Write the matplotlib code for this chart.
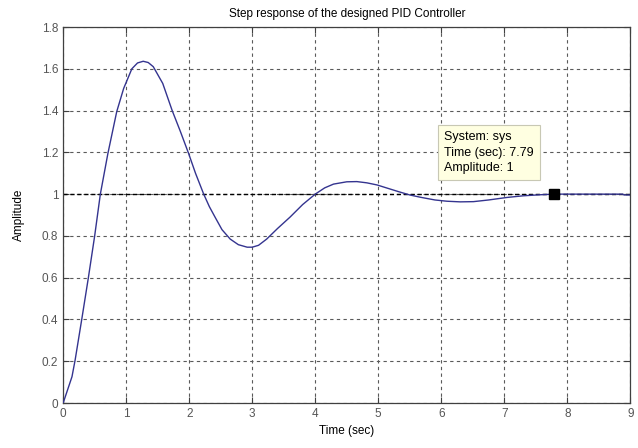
"""Step response of the designed PID controller (MATLAB-style figure)."""

import matplotlib

matplotlib.use("Agg")
import matplotlib.pyplot as plt

# values
time_s = [0.0, 0.14, 0.19, 0.30, 0.40, 0.50, 0.59, 0.71, 0.85, 0.96, 1.09,
          1.18, 1.27, 1.35, 1.43, 1.58, 1.73, 1.86, 1.99, 2.10, 2.23, 2.32,
          2.41, 2.52, 2.65, 2.78, 2.92, 3.0, 3.10, 3.23, 3.40, 3.60, 3.80,
          4.0, 4.15, 4.29, 4.50, 4.66, 4.82, 4.98, 5.15, 5.32, 5.50, 5.67,
          5.90, 6.09, 6.30, 6.51, 6.75, 7.04, 7.30, 7.57, 7.79, 8.5, 8.88,
          8.9, 9.0]
amplitude = [0.0, 0.126, 0.206, 0.41, 0.60, 0.80, 1.0, 1.195, 1.395, 1.506,
             1.60, 1.628, 1.636, 1.630, 1.61, 1.53, 1.40, 1.30, 1.195, 1.10,
             1.0, 0.94, 0.89, 0.83, 0.785, 0.758, 0.746, 0.746, 0.755, 0.785,
             0.835, 0.89, 0.95, 1.0, 1.03, 1.048, 1.059, 1.06, 1.054, 1.044,
             1.028, 1.012, 0.996, 0.985, 0.972, 0.966, 0.963, 0.964, 0.972,
             0.984, 0.992, 0.997, 1.0, 1.0, 1.0, 0.996, 0.996]
x_ticks = [0, 1, 2, 3, 4, 5, 6, 7, 8, 9]
y_ticks = [0, 0.2, 0.4, 0.6, 0.8, 1, 1.2, 1.4, 1.6, 1.8]
y_tick_labels = ["0", "0.2", "0.4", "0.6", "0.8", "1", "1.2", "1.4", "1.6", "1.8"]
datatip_time = 7.79
datatip_amp = 1.0
datatip_text = "System: sys\nTime (sec): 7.79\nAmplitude: 1"


def main() -> None:
    plt.rcParams["font.family"] = ["Liberation Sans", "DejaVu Sans"]
    fig = plt.figure(figsize=(6.38, 4.48), dpi=100)
    ax = fig.add_axes([0.099, 0.1004, 0.889, 0.8393])

    grey = "#404040"
    ax.plot(time_s, amplitude, color="#34348f", lw=1.0, zorder=3)
    ax.axhline(1.0, color="black", lw=1.0, ls=(0, (3, 2)), zorder=2)
    ax.plot([datatip_time], [datatip_amp], "s", color="black", ms=7, zorder=5)

    ax.set_xlim(0, 9)
    ax.set_ylim(0, 1.8)
    ax.set_xticks(x_ticks)
    ax.set_yticks(y_ticks)
    ax.set_yticklabels(y_tick_labels)
    ax.grid(True, color="#5a5a5a", lw=0.8, ls=(0, (3, 3)))
    ax.tick_params(direction="in", length=4, colors=grey, labelsize=8.5,
                   top=True, right=True, labelcolor="#555555")
    for spine in ax.spines.values():
        spine.set_color(grey)
        spine.set_linewidth(0.9)

    ax.set_title("Step response of the designed PID Controller", fontsize=8.5,
                 pad=7)
    ax.set_xlabel("Time (sec)", fontsize=8.5, labelpad=4)
    ax.set_ylabel("Amplitude", fontsize=8.5, labelpad=12)

    ax.text(6.05, 1.302, datatip_text, fontsize=9, va="top", ha="left",
            linespacing=1.4, zorder=6,
            bbox=dict(boxstyle="square,pad=0.5", fc="#ffffe1", ec="#c8c8b4",
                      lw=0.8))

    fig.savefig("out.png", dpi=100)
    plt.close(fig)


if __name__ == "__main__":
    main()
